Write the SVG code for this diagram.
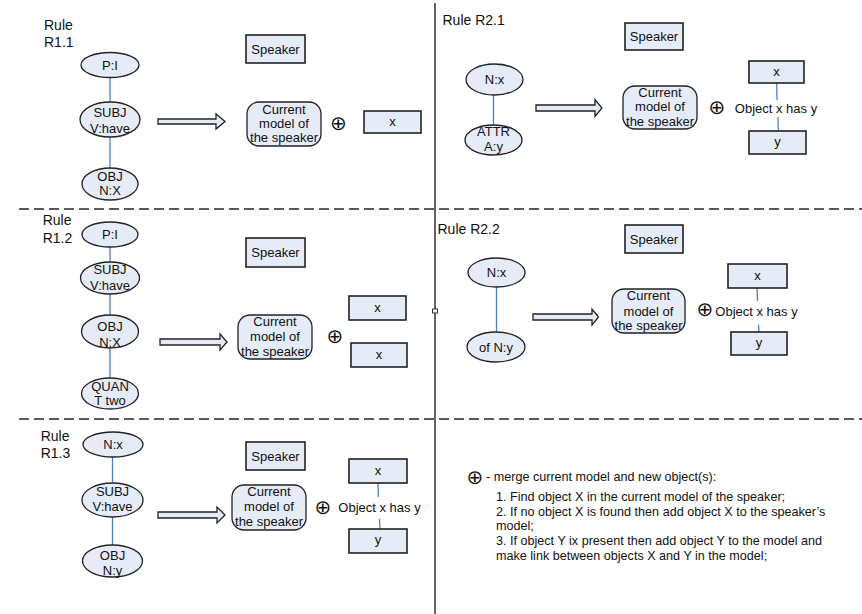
<svg xmlns="http://www.w3.org/2000/svg" width="862" height="614" viewBox="0 0 862 614">
<style>
.ell{fill:#e6ecf7;stroke:#222;stroke-width:1.3}
.box{fill:#e6ecf7;stroke:#222;stroke-width:1.6}
.rnd{fill:#e6ecf7;stroke:#222;stroke-width:1.3}
.link{stroke:#4f81bd;stroke-width:1.3;fill:none}
.barrow{fill:#e6ecf7;stroke:#222;stroke-width:1.3}
.sep{stroke:#5a5a5a;stroke-width:2;stroke-dasharray:10 5;fill:none}
.t{font-family:"Liberation Sans",Arial,sans-serif;font-size:13px;text-anchor:middle;fill:#111}
.r{font-family:"Liberation Sans",Arial,sans-serif;font-size:14px;fill:#111}
.lg{font-family:"Liberation Sans",Arial,sans-serif;font-size:12.6px;fill:#111}
.op{font-family:"DejaVu Sans",sans-serif;font-size:20px;text-anchor:middle;fill:#111}
</style>
<rect width="862" height="614" fill="#fff"/>
<g id="layout">
<line x1="435" y1="3" x2="435" y2="614" stroke="#111" stroke-width="1.3"/>
<line class="sep" x1="19" y1="209" x2="862" y2="209"/>
<line class="sep" x1="19" y1="419" x2="862" y2="419"/>
<rect x="432.5" y="309" width="5" height="4" fill="#fff" stroke="#333" stroke-width="1"/>
</g>
<g id="connectors">
<line class="link" x1="110" y1="77" x2="110" y2="102"/>
<line class="link" x1="110" y1="137" x2="110" y2="168"/>
<polygon class="barrow" points="158,119 216,119 216,114 225,121.5 216,129 216,124 158,124"/>
<line class="link" x1="493.5" y1="95" x2="493.5" y2="125"/>
<polygon class="barrow" points="536,105 595,105 595,99.5 602,108 595,116.5 595,111 536,111"/>
<line class="link" x1="776.7" y1="83" x2="777" y2="100"/>
<line class="link" x1="778" y1="117" x2="778.3" y2="131"/>
<line class="link" x1="110" y1="247" x2="110" y2="262"/>
<line class="link" x1="110" y1="294" x2="110" y2="315"/>
<line class="link" x1="110" y1="348" x2="110" y2="378"/>
<polygon class="barrow" points="160,339 220,339 220,334 227,342 220,350 220,345 160,345"/>
<line class="link" x1="496.5" y1="287" x2="496.5" y2="332"/>
<polygon class="barrow" points="533,314 592,314 592,309 598.5,317 592,325 592,320 533,320"/>
<line class="link" x1="757" y1="288" x2="757.6" y2="301"/>
<line class="link" x1="758.5" y1="325" x2="759" y2="332"/>
<line class="link" x1="112.5" y1="457" x2="112.5" y2="483"/>
<line class="link" x1="112.5" y1="517" x2="112.5" y2="545"/>
<polygon class="barrow" points="158,512 217,512 217,507 225,515 217,523 217,518 158,518"/>
<line class="link" x1="378" y1="483" x2="378.4" y2="497"/>
<line class="link" x1="379.5" y1="519" x2="380" y2="529"/>
</g>
<g id="rule-r11">
<text class="r" x="44" y="30">Rule</text>
<text class="r" x="44" y="47">R1.1</text>
</g>
<g id="r11-pi"><ellipse class="ell" cx="110" cy="65" rx="29" ry="12.5"/><text class="t" x="110" y="69.5">P:I</text></g>
<g id="r11-subj"><ellipse class="ell" cx="110" cy="119.5" rx="30" ry="17.5"/><text class="t" x="110" y="117.3">SUBJ</text><text class="t" x="110" y="133">V:have</text></g>
<g id="r11-obj"><ellipse class="ell" cx="110" cy="184" rx="28" ry="16"/><text class="t" x="110" y="180.5">OBJ</text><text class="t" x="110" y="195">N:X</text></g>
<g id="r11-speaker"><rect class="box" x="246" y="35" width="59" height="28"/><text class="t" x="275.5" y="53.5">Speaker</text></g>
<g id="r11-model"><rect class="rnd" x="247" y="102" width="74" height="44" rx="12"/><text class="t" x="284" y="113.5">Current</text><text class="t" x="284" y="127.5">model of</text><text class="t" x="284" y="141.5">the speaker</text></g>
<g id="r11-merge"><text class="op" x="338.5" y="123" dominant-baseline="central">⊕</text></g>
<g id="r11-x"><rect class="box" x="364" y="111" width="57" height="22"/><text class="t" x="392.5" y="125.5">x</text></g>

<g id="rule-r21"><text class="r" x="442.5" y="25">Rule R2.1</text></g>
<g id="r21-speaker"><rect class="box" x="625" y="23" width="58" height="27"/><text class="t" x="654" y="41">Speaker</text></g>
<g id="r21-nx"><ellipse class="ell" cx="494.5" cy="79.5" rx="28.5" ry="15.5"/><text class="t" x="494.5" y="84">N:x</text></g>
<g id="r21-attr"><ellipse class="ell" cx="493.5" cy="140" rx="28.5" ry="15"/><text class="t" x="493.5" y="135.6">ATTR</text><text class="t" x="493.5" y="151">A:y</text></g>
<g id="r21-model"><rect class="rnd" x="623" y="86" width="74" height="43" rx="12"/><text class="t" x="660" y="97.3">Current</text><text class="t" x="660" y="111.3">model of</text><text class="t" x="660" y="126.3">the speaker</text></g>
<g id="r21-merge"><text class="op" x="717" y="107" dominant-baseline="central">⊕</text></g>
<g id="r21-x"><rect class="box" x="749" y="61" width="55" height="22"/><text class="t" x="776.5" y="76">x</text></g>
<g id="r21-rel"><text class="t" x="776" y="113" font-size="12.5">Object x has y</text></g>
<g id="r21-y"><rect class="box" x="749" y="131" width="57" height="23"/><text class="t" x="777.5" y="146">y</text></g>

<g id="rule-r12">
<text class="r" x="42.7" y="225">Rule</text>
<text class="r" x="42.7" y="242.7">R1.2</text>
</g>
<g id="r12-pi"><ellipse class="ell" cx="110" cy="234.5" rx="28" ry="12.5"/><text class="t" x="110" y="239">P:I</text></g>
<g id="r12-subj"><ellipse class="ell" cx="110" cy="278" rx="29.5" ry="16"/><text class="t" x="110" y="274">SUBJ</text><text class="t" x="110" y="289.6">V:have</text></g>
<g id="r12-obj"><ellipse class="ell" cx="110" cy="331.5" rx="28.5" ry="16.5"/><text class="t" x="110" y="331.3">OBJ</text><text class="t" x="110" y="347">N:X</text></g>
<g id="r12-quant"><ellipse class="ell" cx="110" cy="393.5" rx="28.5" ry="15.5"/><text class="t" x="110" y="390.6">QUAN</text><text class="t" x="110" y="404.6">T two</text></g>
<g id="r12-speaker"><rect class="box" x="246" y="238" width="59" height="29"/><text class="t" x="275.5" y="256.5">Speaker</text></g>
<g id="r12-model"><rect class="rnd" x="238" y="315" width="74" height="44" rx="12"/><text class="t" x="275" y="326">Current</text><text class="t" x="275" y="341">model of</text><text class="t" x="275" y="356">the speaker</text></g>
<g id="r12-merge"><text class="op" x="335" y="336" dominant-baseline="central">⊕</text></g>
<g id="r12-x1"><rect class="box" x="349" y="296" width="57" height="24"/><text class="t" x="377.5" y="312">x</text></g>
<g id="r12-x2"><rect class="box" x="351" y="343" width="56" height="24"/><text class="t" x="379" y="359">x</text></g>

<g id="rule-r22"><text class="r" x="437.5" y="234">Rule R2.2</text></g>
<g id="r22-speaker"><rect class="box" x="625" y="225" width="58" height="28"/><text class="t" x="654" y="243.5">Speaker</text></g>
<g id="r22-nx"><ellipse class="ell" cx="496.5" cy="272.5" rx="28.5" ry="14.5"/><text class="t" x="496.5" y="277">N:x</text></g>
<g id="r22-ofny"><ellipse class="ell" cx="496" cy="347" rx="29" ry="15"/><text class="t" x="496" y="351.5">of N:y</text></g>
<g id="r22-model"><rect class="rnd" x="612" y="289" width="73" height="44" rx="12"/><text class="t" x="648.5" y="300.3">Current</text><text class="t" x="648.5" y="315.6">model of</text><text class="t" x="648.5" y="330.3">the speaker</text></g>
<g id="r22-merge"><text class="op" x="705" y="309" dominant-baseline="central">⊕</text></g>
<g id="r22-x"><rect class="box" x="728" y="264" width="59" height="24"/><text class="t" x="757.5" y="280">x</text></g>
<g id="r22-rel"><text class="t" x="756.5" y="315.5" font-size="12.5">Object x has y</text></g>
<g id="r22-y"><rect class="box" x="731" y="332" width="56" height="23"/><text class="t" x="759" y="347">y</text></g>

<g id="rule-r13">
<text class="r" x="40.7" y="441">Rule</text>
<text class="r" x="40.7" y="457.7">R1.3</text>
</g>
<g id="r13-nx"><ellipse class="ell" cx="113" cy="444.5" rx="30" ry="12.5"/><text class="t" x="113" y="449">N:x</text></g>
<g id="r13-subj"><ellipse class="ell" cx="112.5" cy="500" rx="30.5" ry="17"/><text class="t" x="112.5" y="496.3">SUBJ</text><text class="t" x="112.5" y="511.3">V:have</text></g>
<g id="r13-obj"><ellipse class="ell" cx="112.5" cy="561" rx="30" ry="16"/><text class="t" x="112.5" y="560.3">OBJ</text><text class="t" x="112.5" y="574.6">N:y</text></g>
<g id="r13-speaker"><rect class="box" x="246" y="442" width="59" height="28"/><text class="t" x="275.5" y="460.5">Speaker</text></g>
<g id="r13-model"><rect class="rnd" x="232" y="485" width="74" height="45" rx="12"/><text class="t" x="269" y="496.3">Current</text><text class="t" x="269" y="511.3">model of</text><text class="t" x="269" y="526.3">the speaker</text></g>
<g id="r13-merge"><text class="op" x="323" y="507" dominant-baseline="central">⊕</text></g>
<g id="r13-x"><rect class="box" x="349" y="459" width="58" height="24"/><text class="t" x="378" y="475">x</text></g>
<g id="r13-rel"><text class="t" x="379.5" y="511.5" font-size="12.5">Object x has y</text></g>
<g id="r13-y"><rect class="box" x="349" y="529" width="58" height="24"/><text class="t" x="378" y="544">y</text></g>

<g id="legend">
<text class="op" x="475" y="476.5" dominant-baseline="central">⊕</text>
<text class="lg" x="486" y="480.5">- merge current model and new object(s):</text>
<text class="lg" x="496" y="500.5">1. Find object X in the current model of the speaker;</text>
<text class="lg" x="496" y="515.5">2. If no object X is found then add object X to the speaker’s</text>
<text class="lg" x="496" y="529.5">model;</text>
<text class="lg" x="496" y="544.5">3. If object Y ix present then add object Y to the model and</text>
<text class="lg" x="496" y="559.5">make link between objects X and Y in the model;</text>
</g>
</svg>
